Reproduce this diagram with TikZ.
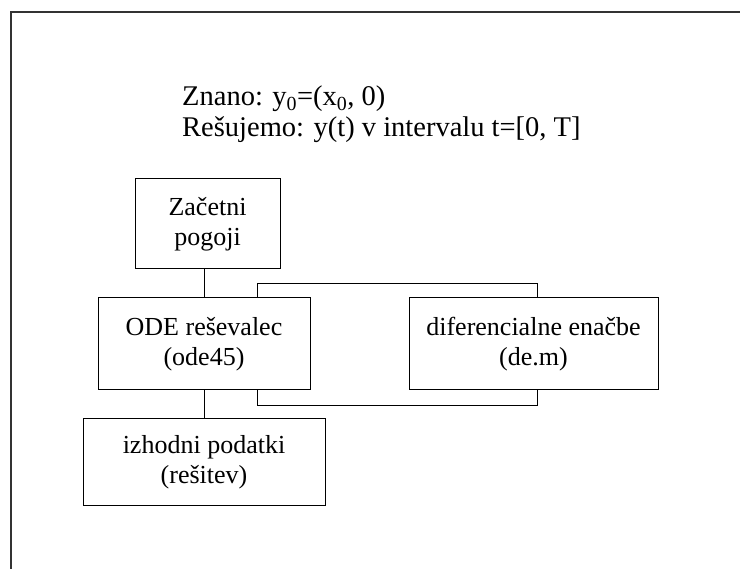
\documentclass[tikz,border=0pt]{standalone}
\usepackage{fontspec}
\setmainfont{Liberation Serif}
\begin{document}
\begin{tikzpicture}[x=1pt,y=-1pt,
  box/.style={draw,fill=white,line width=1pt,inner sep=0pt,align=center,
    font=\fontsize{26}{30}\selectfont},
  wire/.style={line width=1pt}]
\useasboundingbox (0,0) rectangle (740,569);
% frame
\draw[line width=1.3pt,black!80] (11,569) -- (11,12) -- (740,12);
% heading
\node[anchor=base west,align=left,inner sep=0pt,
  font=\fontsize{28.5}{31.5}\selectfont] (head) at (182,137)
  {Znano: y\textsubscript{0}=(x\textsubscript{0}, 0)\\Rešujemo: y(t) v intervalu t=[0, T]};
% loop coordinates
\coordinate (lx) at (257,0);
\coordinate (rx) at (537,0);
% boxes
\node[box,minimum width=145pt,minimum height=90pt] (zac) at (207.5,224) {Začetni\\pogoji};
\node[box,minimum width=212pt,minimum height=92pt] (ode) at (204,344) {ODE reševalec\\(ode45)};
\node[box,minimum width=249pt,minimum height=92pt] (dif) at (533.5,344) {diferencialne enačbe\\(de.m)};
\node[box,minimum width=242pt,minimum height=87pt] (izh) at (204,462.5) {izhodni podatki\\(rešitev)};
% connectors
\draw[wire] (ode.north |- zac.south) -- (ode.north);
\draw[wire] (ode.south) -- (izh.north);
\draw[wire] (ode.north -| lx) -- ++(0,-14) -| (dif.north -| rx);
\draw[wire] (ode.south -| lx) -- ++(0,15) -| (dif.south -| rx);
\end{tikzpicture}
\end{document}
